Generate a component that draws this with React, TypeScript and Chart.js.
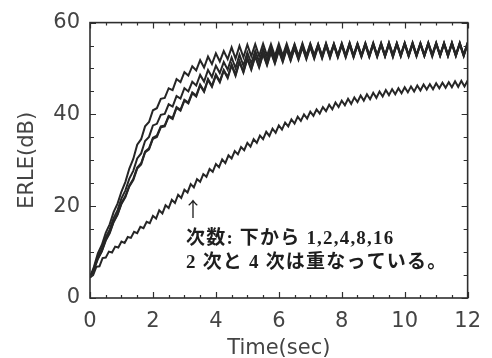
import React, { useEffect, useRef } from "react";
import { Chart, registerables } from "chart.js";

Chart.register(...registerables);

// ---- axis definitions ----
const xMin = 0;
const xMax = 12;
const xMajorStep = 2;
const xMinorStep = 0.5;
const yMin = 0;
const yMax = 60;
const yMajorStep = 20;
const yMinorStep = 5;
const xTitle = "Time(sec)";
const yTitle = "ERLE(dB)";

// sampling interval (sec) of the read-off points
const upperStep = 0.125;
const lowerStep = 0.1;

// ---- series (ERLE in dB) ----
const order16 = [
  4.5, 6.8, 9.7, 11.55, 14.2, 16.05, 18.7, 20.55, 23.2, 25.3,
  28.2, 30.3, 33.4, 34.6, 37.4, 38.35, 40.9, 41.35, 43.4, 43.6,
  45.7, 45.3, 47.7, 47.05, 49.2, 48.45, 50.5, 49.6, 51.8, 50.2,
  52.6, 50.95, 53.3, 51.55, 53.8, 52.05, 54.6, 52.15, 54.9, 52.45,
  55.2, 52.7, 55.3, 52.7, 55.4, 52.8, 55.3, 52.7, 55.4, 52.8,
  55.4, 52.8, 55.3, 52.7, 55.5, 52.8, 55.4, 52.9, 55.3, 52.8,
  55.5, 52.9, 55.4, 52.8, 55.5, 52.8, 55.6, 52.9, 55.4, 52.8,
  55.5, 52.9, 55.6, 52.8, 55.5, 52.9, 55.6, 53.0, 55.5, 52.9,
  55.6, 53.0, 55.6, 52.9, 55.5, 53.0, 55.6, 53.0, 55.5, 52.9,
  55.6, 53.0, 55.6, 52.9, 55.5, 53.0, 55.6,
];

const order8 = [
  4.5, 6.45, 9.0, 10.7, 13.2, 14.9, 17.4, 19.15, 21.7, 23.45,
  26.0, 27.7, 30.4, 31.5, 34.2, 35.1, 37.6, 37.95, 39.9, 40.1,
  42.2, 41.7, 44.0, 43.45, 45.7, 45.0, 47.1, 46.3, 48.6, 47.15,
  49.7, 48.15, 50.6, 49.0, 51.4, 49.75, 52.4, 50.1, 53.0, 50.65,
  53.5, 51.1, 53.9, 51.5, 54.3, 51.85, 54.6, 52.1, 54.8, 52.3,
  54.95, 52.4, 55.1, 52.5, 55.2, 52.6, 55.3, 52.7, 55.3, 52.6,
  55.4, 52.8, 55.3, 52.7, 55.4, 52.8, 55.5, 52.7, 55.4, 52.9,
  55.5, 52.8, 55.4, 52.9, 55.5, 52.8, 55.6, 52.9, 55.5, 53.0,
  55.5, 52.9, 55.6, 53.0, 55.5, 52.9, 55.6, 53.0, 55.6, 53.0,
  55.5, 53.0, 55.6, 53.0, 55.6, 52.9, 55.7,
];

const order4 = [
  4.5, 6.3, 8.7, 10.3, 12.7, 14.3, 16.7, 18.3, 20.7, 22.2,
  24.5, 25.95, 28.4, 29.35, 31.9, 32.6, 34.9, 35.35, 37.4, 37.6,
  39.7, 39.25, 41.6, 41.0, 43.2, 42.6, 44.8, 44.1, 46.5, 45.1,
  47.7, 46.2, 48.7, 47.2, 49.7, 48.15, 50.9, 48.65, 51.6, 49.35,
  52.3, 49.95, 52.8, 50.45, 53.3, 50.9, 53.7, 51.3, 54.1, 51.65,
  54.4, 51.9, 54.6, 52.1, 54.8, 52.25, 54.9, 52.35, 55.0, 52.45,
  55.1, 52.5, 55.2, 52.6, 55.2, 52.6, 55.3, 52.6, 55.2, 52.7,
  55.3, 52.6, 55.3, 52.7, 55.2, 52.7, 55.3, 52.6, 55.3, 52.7,
  55.4, 52.7, 55.3, 52.8, 55.3, 52.7, 55.4, 52.8, 55.3, 52.8,
  55.4, 52.7, 55.4, 52.8, 55.3, 52.8, 55.4,
];

const order2 = [
  4.5, 6.2, 8.5, 10.1, 12.5, 14.1, 16.5, 18.1, 20.5, 22.0,
  24.3, 25.7, 28.2, 29.1, 31.7, 32.4, 34.7, 35.1, 37.2, 37.4,
  39.5, 39.0, 41.4, 40.8, 43.0, 42.4, 44.6, 43.9, 46.3, 44.9,
  47.5, 46.0, 48.5, 47.0, 49.5, 47.9, 50.7, 48.4, 51.4, 49.1,
  52.1, 49.7, 52.6, 50.2, 53.1, 50.7, 53.5, 51.1, 53.9, 51.4,
  54.2, 51.7, 54.4, 51.9, 54.6, 52.0, 54.7, 52.1, 54.8, 52.2,
  54.9, 52.3, 55.0, 52.4, 55.0, 52.4, 55.1, 52.4, 55.1, 52.5,
  55.1, 52.5, 55.2, 52.5, 55.2, 52.6, 55.2, 52.5, 55.3, 52.6,
  55.3, 52.6, 55.3, 52.6, 55.3, 52.7, 55.3, 52.6, 55.4, 52.7,
  55.3, 52.7, 55.4, 52.7, 55.4, 52.7, 55.4,
];

const order1 = [
  4.5, 5.0, 6.8, 6.9, 8.7, 8.8, 10.1, 9.9, 11.2, 11.0,
  12.3, 12.0, 13.3, 13.1, 14.4, 14.1, 15.5, 15.2, 16.6, 16.3,
  17.9, 17.3, 19.1, 18.4, 20.2, 19.6, 21.4, 20.7, 22.5, 21.8,
  23.6, 23.0, 24.8, 24.1, 25.9, 25.3, 27.0, 26.4, 28.1, 27.5,
  29.2, 28.5, 30.2, 29.4, 31.1, 30.4, 32.0, 31.3, 32.9, 32.2,
  33.8, 33.0, 34.6, 33.8, 35.4, 34.6, 36.2, 35.3, 36.9, 36.0,
  37.6, 36.7, 38.2, 37.4, 38.9, 38.0, 39.5, 38.6, 40.0, 39.1,
  40.6, 39.7, 41.1, 40.2, 41.6, 40.7, 42.1, 41.1, 42.6, 41.6,
  43.0, 42.0, 43.4, 42.3, 43.7, 42.7, 44.1, 43.0, 44.4, 43.3,
  44.7, 43.6, 45.0, 43.9, 45.3, 44.2, 45.5, 44.4, 45.7, 44.6,
  45.9, 44.8, 46.1, 45.0, 46.3, 45.2, 46.5, 45.4, 46.6, 45.5,
  46.8, 45.7, 46.9, 45.8, 47.0, 45.9, 47.2, 46.0, 47.3, 46.1, 47.4,
];

// ---- annotation text (anchored in data units) ----
const noteArrow = "↑";
const noteArrowX = 3.08;
const noteArrowY = 19.3;
const noteLines = ["次数: 下から 1,2,4,8,16", "2 次と 4 次は重なっている。"];
const noteX = 3.05;
const noteYs = [12.8, 7.5];

const toPoints = (vals: number[], step: number) =>
  vals.map((v, i) => ({ x: i * step, y: v }));

const INK = "#262626";
const AXIS_FONT = "'DejaVu Sans', 'Liberation Sans', sans-serif";

const framePlugin = {
  id: "frameTicks",
  afterDatasetsDraw(chart: any) {
    const { ctx, chartArea } = chart;
    const { left, right, top, bottom } = chartArea;
    const xs = chart.scales.x;
    const ys = chart.scales.y;
    ctx.save();
    ctx.strokeStyle = "#2e2e2e";
    ctx.lineWidth = 1.6;
    ctx.strokeRect(left, top, right - left, bottom - top);
    ctx.lineWidth = 1.2;
    ctx.beginPath();
    for (let v = xMin; v <= xMax + 1e-6; v += xMinorStep) {
      const px = Math.round(xs.getPixelForValue(v)) + 0.5;
      const major = Math.abs(v / xMajorStep - Math.round(v / xMajorStep)) < 1e-6;
      const len = major ? 6 : 3;
      ctx.moveTo(px, bottom);
      ctx.lineTo(px, bottom - len);
      ctx.moveTo(px, top);
      ctx.lineTo(px, top + len);
    }
    for (let v = yMin; v <= yMax + 1e-6; v += yMinorStep) {
      const py = Math.round(ys.getPixelForValue(v)) + 0.5;
      const major = Math.abs(v / yMajorStep - Math.round(v / yMajorStep)) < 1e-6;
      const len = major ? 6 : 4;
      ctx.moveTo(left, py);
      ctx.lineTo(left + len, py);
      ctx.moveTo(right, py);
      ctx.lineTo(right - len, py);
    }
    ctx.stroke();

    // annotation
    ctx.fillStyle = "#1e1e1e";
    ctx.textAlign = "left";
    ctx.textBaseline = "middle";
    ctx.font = "20px 'Noto Sans CJK JP', sans-serif";
    ctx.fillText(noteArrow, xs.getPixelForValue(noteArrowX) - 4, ys.getPixelForValue(noteArrowY));
    ctx.font = "bold 19px 'Liberation Serif', 'Noto Sans CJK JP', serif";
    (ctx as any).letterSpacing = "1.2px";
    const nx = xs.getPixelForValue(noteX);
    noteLines.forEach((line, i) => {
      ctx.fillText(line, nx, ys.getPixelForValue(noteYs[i]));
    });
    ctx.restore();
  },
};

export default function App() {
  const canvasRef = useRef<HTMLCanvasElement | null>(null);

  useEffect(() => {
    if (!canvasRef.current) return;
    const series = [
      { label: "1", data: toPoints(order1, lowerStep) },
      { label: "2", data: toPoints(order2, upperStep) },
      { label: "4", data: toPoints(order4, upperStep) },
      { label: "8", data: toPoints(order8, upperStep) },
      { label: "16", data: toPoints(order16, upperStep) },
    ];
    const chart = new Chart(canvasRef.current, {
      type: "line",
      data: {
        datasets: series.map((s) => ({
          label: s.label,
          data: s.data,
          borderColor: INK,
          borderWidth: 2,
          pointRadius: 0,
          tension: 0,
          fill: false,
        })),
      },
      options: {
        responsive: false,
        maintainAspectRatio: false,
        animation: false,
        events: [],
        layout: { padding: { top: 12, right: 24, left: 0, bottom: 0 } },
        plugins: {
          legend: { display: false },
          tooltip: { enabled: false },
        },
        scales: {
          x: {
            type: "linear",
            min: xMin,
            max: xMax,
            grid: { display: false, drawTicks: false },
            border: { display: false },
            ticks: {
              stepSize: xMajorStep,
              padding: 11,
              color: "#444",
              font: { family: AXIS_FONT, size: 21 },
              maxRotation: 0,
            },
            title: {
              display: true,
              text: xTitle,
              color: "#444",
              font: { family: AXIS_FONT, size: 21 },
              padding: { top: 0, bottom: -3 },
            },
            afterFit: (scale: any) => {
              scale.height = 60;
            },
          },
          y: {
            type: "linear",
            min: yMin,
            max: yMax,
            grid: { display: false, drawTicks: false },
            border: { display: false },
            ticks: {
              stepSize: yMajorStep,
              padding: 10,
              color: "#444",
              font: { family: AXIS_FONT, size: 21 },
            },
            title: {
              display: true,
              text: yTitle,
              color: "#444",
              font: { family: AXIS_FONT, size: 21 },
              padding: { top: 15, bottom: 0 },
            },
            afterFit: (scale: any) => {
              scale.width = 90;
            },
          },
        },
      },
      plugins: [framePlugin],
    });
    return () => chart.destroy();
  }, []);

  return (
    <div style={{ position: "fixed", left: 0, top: 0, width: 492, height: 358, background: "#fff" }}>
      <canvas ref={canvasRef} width={492} height={358} />
    </div>
  );
}
